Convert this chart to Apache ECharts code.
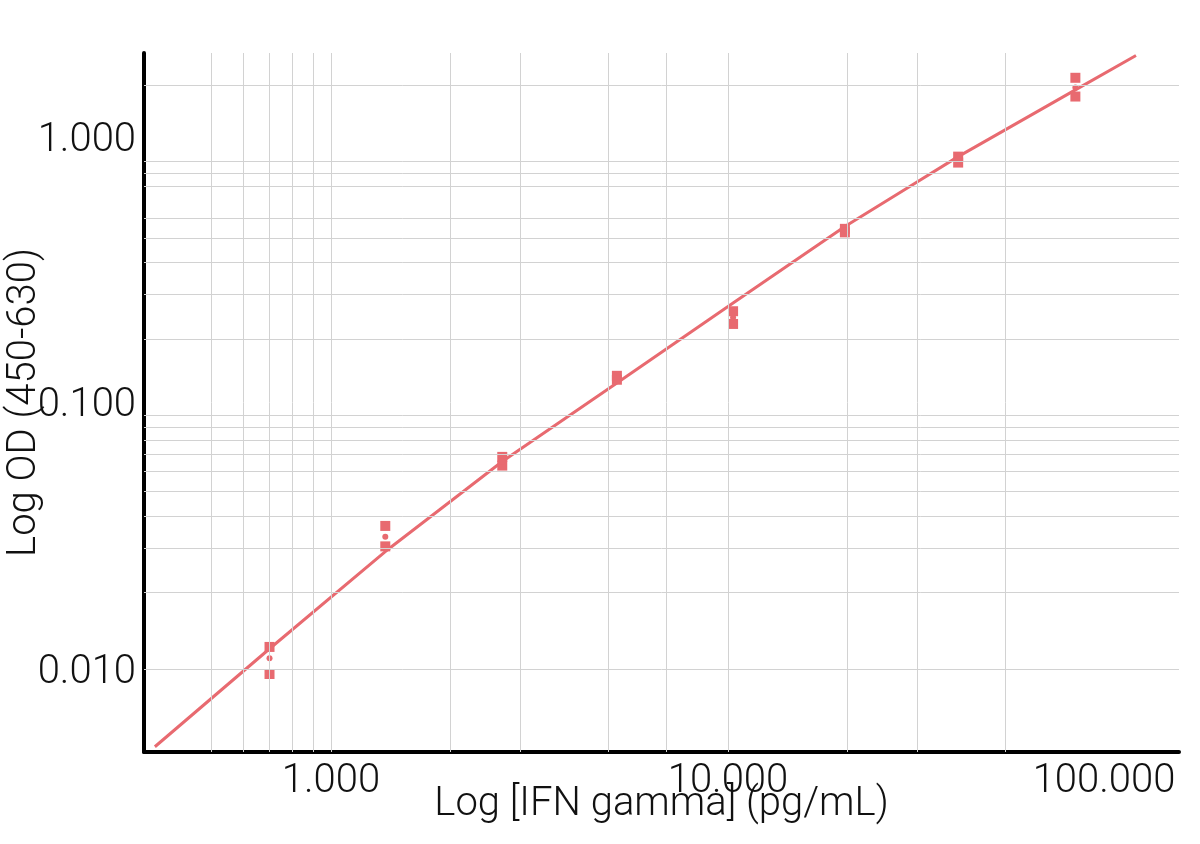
<!DOCTYPE html>
<html>
<head>
<meta charset="utf-8">
<title>IFN gamma standard curve</title>
<script src="https://cdn.jsdelivr.net/npm/echarts@6/dist/echarts.min.js"></script>
<style>
  html, body { margin: 0; padding: 0; background: #fff; }
  #chart { width: 1200px; height: 844px; }
</style>
</head>
<body>
<div id="chart"></div>
<script>
// standards (pg/mL)
var conc = [0.7, 1.37, 2.7, 5.25, 10.3, 19.7, 38, 75];
// replicate ODs (two squares per standard) and their mean (circle)
var rep1 = [0.0122, 0.0366, 0.0685, 0.143, 0.257, 0.543, 1.046, 2.14];
var rep2 = [0.00954, 0.0304, 0.0633, 0.138, 0.229, 0.526, 0.991, 1.805];
var meanOD = [0.0110, 0.0332, 0.0657, 0.140, 0.243, 0.535, 1.018, 1.96];

// fitted curve, points
var curveX = [0.36, 0.7, 1.37, 2.15, 2.7, 5.25, 10.3, 19.7, 28.7, 38, 75, 106.6];
var curveY = [0.00493, 0.0120, 0.029, 0.0499, 0.0657, 0.134, 0.277, 0.555, 0.797, 1.046, 1.917, 2.62];

// grid lines drawn in the reference
var xGrid = [0.5, 0.6, 0.7, 0.8, 0.9, 1, 2, 3, 5, 7, 10, 20, 30, 50];
var yGrid = [2, 1, 0.9, 0.8, 0.6, 0.5, 0.4, 0.3, 0.2, 0.1, 0.09, 0.08, 0.07, 0.06, 0.05, 0.04, 0.03, 0.02, 0.01];

var xRange = [0.338, 136.8];
var yRange = [0.0047, 2.68];

var red = '#e86a70';
var font = 'Roboto, "Liberation Sans", sans-serif';

var chart = echarts.init(document.getElementById('chart'));

function pairs(xs, ys) {
    var out = [];
    for (var i = 0; i < xs.length; i++) out.push([xs[i], ys[i]]);
    return out;
}

var gridLines = [];
for (var i = 0; i < xGrid.length; i++) gridLines.push({ xAxis: xGrid[i] });
for (i = 0; i < yGrid.length; i++) gridLines.push({ yAxis: yGrid[i] });

function xLabel(v) {
    var r = Math.round(v * 1000) / 1000;
    if (r === 100) return '{r|' + r.toFixed(3) + '}';
    return r.toFixed(3);
}

// y labels in the reference sit a little off their grid lines
function yLabel(v) {
    var r = Math.round(v * 1000) / 1000;
    if (r === 1) return '{a|' + r.toFixed(3) + '}';
    if (r === 0.1) return '{b|' + r.toFixed(3) + '}';
    return '{c|' + r.toFixed(3) + '}';
}

var labelText = { fontFamily: font, fontWeight: 300, fontSize: 40, color: '#111' };

var option = {
    animation: false,
    backgroundColor: '#ffffff',
    grid: { left: 144, right: 21, top: 53, bottom: 92, containLabel: false, outerBoundsMode: 'none' },
    xAxis: {
        type: 'log',
        logBase: 10,
        min: xRange[0],
        max: xRange[1],
        name: 'Log [IFN gamma] (pg/mL)',
        nameLocation: 'middle',
        nameGap: 33,
        nameMoveOverlap: false,
        nameTextStyle: labelText,
        axisLine: { lineStyle: { color: '#000', width: 4 } },
        axisTick: { show: false },
        splitLine: { show: false },
        axisLabel: {
            showMinLabel: false,
            showMaxLabel: false,
            margin: 10,
            fontFamily: font,
            fontWeight: 300,
            fontSize: 40,
            color: '#111',
            formatter: xLabel,
            rich: { r: Object.assign({ padding: [0, 42, 0, 0] }, labelText) }
        }
    },
    yAxis: {
        type: 'log',
        logBase: 10,
        min: yRange[0],
        max: yRange[1],
        name: 'Log OD (450-630)',
        nameLocation: 'middle',
        nameGap: 99,
        nameMoveOverlap: false,
        nameTextStyle: labelText,
        axisLine: { lineStyle: { color: '#000', width: 4 } },
        axisTick: { show: false },
        splitLine: { show: false },
        axisLabel: {
            showMinLabel: false,
            showMaxLabel: false,
            margin: 8,
            fontFamily: font,
            fontWeight: 300,
            fontSize: 40,
            color: '#111',
            formatter: yLabel,
            rich: {
                a: Object.assign({ padding: [0, 0, 42, 0] }, labelText),
                b: Object.assign({ padding: [0, 0, 18, 0] }, labelText),
                c: Object.assign({ padding: [8, 0, 0, 0] }, labelText)
            }
        }
    },
    series: [
        {
            name: 'grid',
            type: 'scatter',
            data: [],
            z: 1,
            silent: true,
            markLine: {
                silent: true,
                symbol: ['none', 'none'],
                label: { show: false },
                lineStyle: { color: '#d2d2d2', width: 1, type: 'solid' },
                emphasis: { disabled: true },
                data: gridLines
            }
        },
        {
            name: 'fit',
            type: 'line',
            data: pairs(curveX, curveY),
            showSymbol: false,
            smooth: false,
            z: 3,
            lineStyle: { color: red, width: 3 }
        },
        {
            name: 'rep1',
            type: 'scatter',
            data: pairs(conc, rep1),
            symbol: 'rect',
            symbolSize: 10,
            z: 4,
            itemStyle: { color: red, opacity: 1 }
        },
        {
            name: 'rep2',
            type: 'scatter',
            data: pairs(conc, rep2),
            symbol: 'rect',
            symbolSize: 10,
            z: 4,
            itemStyle: { color: red, opacity: 1 }
        },
        {
            name: 'mean',
            type: 'scatter',
            data: pairs(conc, meanOD),
            symbol: 'circle',
            symbolSize: 6,
            z: 4,
            itemStyle: { color: red, opacity: 1 }
        }
    ]
};

chart.setOption(option);
</script>
</body>
</html>
